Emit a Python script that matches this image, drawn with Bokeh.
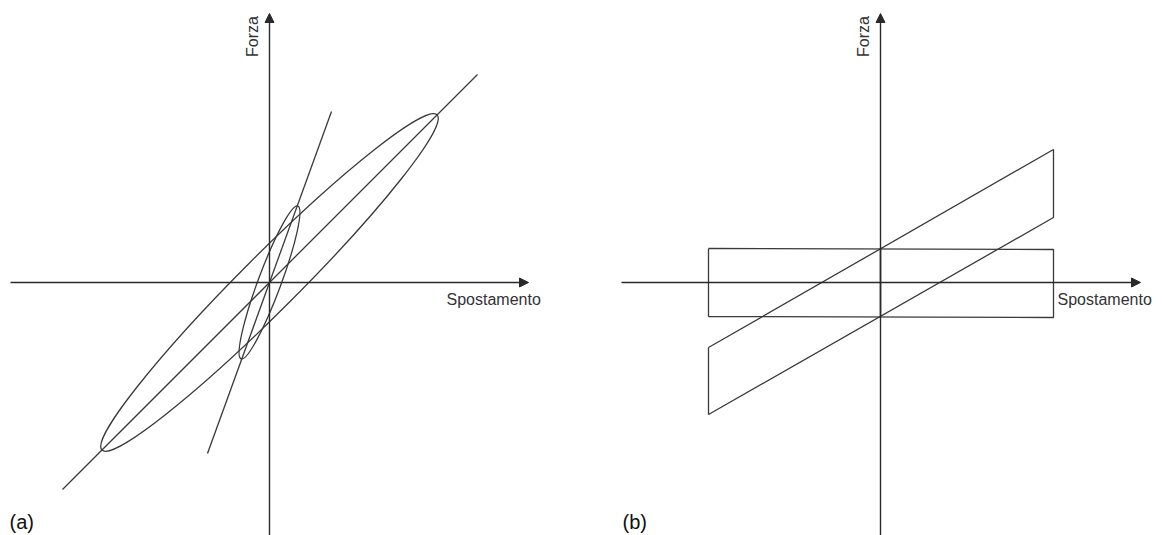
import math
from bokeh.plotting import figure
from bokeh.layouts import row
from bokeh.models import Arrow, NormalHead, ColumnDataSource
from bokeh.core.properties import value
from bokeh.embed import file_html
from bokeh.resources import INLINE

# ---- data (arbitrary displacement / force units, origin at axis crossing) ----
# Panel (a): viscoelastic loops
big_loop_major = 474.0        # length of main loop along its axis
big_loop_minor = 56.0         # loop thickness
big_loop_angle_deg = 45.0
small_loop_major = 163.0
small_loop_minor = 23.0
small_loop_angle_deg = 69.6
soft_line_x = [-207.0, 208.0]
soft_line_y = [-207.0, 208.0]
stiff_line_x = [-62.0, 62.0]
stiff_line_y = [-171.0, 171.0]

# Panel (b): rigid-plastic loop and friction + spring loop
rect_x = [-172.0, 173.0, 173.0, -172.0, -172.0]
rect_y = [34.0, 33.0, -35.0, -34.0, 34.0]
para_x = [-172.0, 173.0, 173.0, -172.0, -172.0]
para_y = [-65.0, 133.0, 65.0, -132.0, -65.0]
jump_x = [0.0, 0.0]
jump_y = [34.0, -34.0]

# axis extents
h_axis_a = (-259.0, 259.0)
h_axis_b = (-259.0, 260.0)
v_axis = (-253.0, 269.0)

LINE = "#3a3a3a"
AXIS = "#2a2a2a"
FONT = value("Liberation Sans")


def make_panel(x_range, tag, h_axis, tag_x):
    p = figure(width=581, height=535, x_range=x_range, y_range=(-253, 282),
               output_backend="svg", toolbar_location=None, min_border=0,
               x_axis_type=None, y_axis_type=None)
    p.grid.visible = False
    p.outline_line_color = None
    p.background_fill_color = "white"
    p.border_fill_color = "white"
    # coordinate axes with arrowheads
    p.add_layout(Arrow(end=NormalHead(size=9, fill_color=AXIS, line_color=AXIS),
                       x_start=h_axis[0], y_start=0, x_end=h_axis[1], y_end=0,
                       line_color=AXIS, line_width=1.4))
    p.add_layout(Arrow(end=NormalHead(size=9, fill_color=AXIS, line_color=AXIS),
                       x_start=0, y_start=v_axis[0], x_end=0, y_end=v_axis[1],
                       line_color=AXIS, line_width=1.4))
    p.text(x=[-17], y=[246], text=["Forza"], angle=math.pi / 2,
           text_font=FONT, text_font_size="16px", text_color="#333333",
           text_align="center", text_baseline="middle")
    p.text(x=[177], y=[-17], text=["Spostamento"],
           text_font=FONT, text_font_size="16px", text_color="#333333",
           text_align="left", text_baseline="middle")
    p.text(x=[tag_x], y=[-239], text=[tag],
           text_font=FONT, text_font_size="20px", text_color="#111111",
           text_align="left", text_baseline="middle")
    return p


# ---- panel (a) ----
pa = make_panel((-269, 312), "(a)", h_axis_a, -260)
pa.ellipse(x=[0, 0], y=[0, 0],
           width=[big_loop_major, small_loop_major],
           height=[big_loop_minor, small_loop_minor],
           angle=[math.radians(big_loop_angle_deg), math.radians(small_loop_angle_deg)],
           fill_alpha=0, line_color=LINE, line_width=1.3)
pa.line(soft_line_x, soft_line_y, line_color=LINE, line_width=1.3)
pa.line(stiff_line_x, stiff_line_y, line_color=LINE, line_width=1.3)

# ---- panel (b) ----
pb = make_panel((-299, 282), "(b)", h_axis_b, -258)
pb.line(rect_x, rect_y, line_color=LINE, line_width=1.3)
pb.line(para_x, para_y, line_color=LINE, line_width=1.3)
pb.line(jump_x, jump_y, line_color=LINE, line_width=1.6)

layout = row(pa, pb)
open("out.html", "w").write(file_html(layout, INLINE))
